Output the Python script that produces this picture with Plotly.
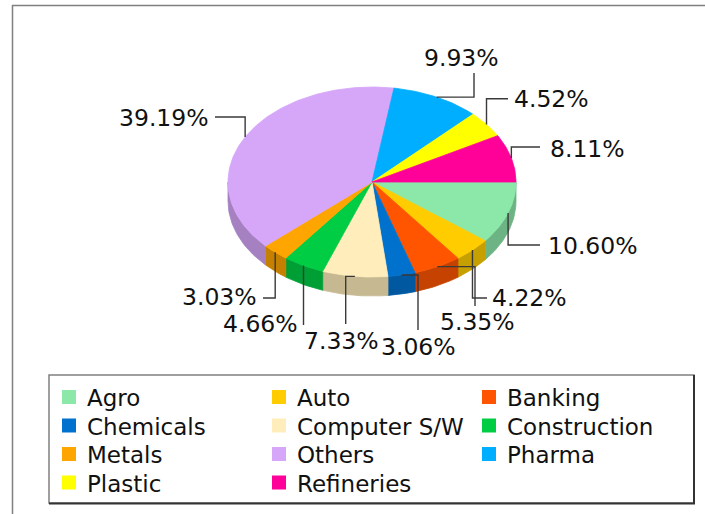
import math
import plotly.graph_objects as go

# ---------------- data ----------------
categories = ["Agro", "Auto", "Banking", "Chemicals", "Computer S/W", "Construction",
              "Metals", "Others", "Pharma", "Plastic", "Refineries"]
shares = [10.60, 4.22, 5.35, 3.06, 7.33, 4.66, 3.03, 39.19, 9.93, 4.52, 8.11]
colors = ["#8BE8A8", "#FFCC00", "#FF5500", "#0072CE", "#FFEEBB", "#00CC44",
          "#FFA500", "#D6A6F9", "#00AEFF", "#FFFF00", "#FF0099"]

# ---------------- layout constants (pixels) ----------------
W, H = 705, 514
CX, CY = 372, 182      # pie centre
RX, RY = 144, 95       # ellipse radii
DEPTH = 19             # pie thickness
FONT = "DejaVu Sans, Verdana, sans-serif"
FS_LABEL = 23.5
FS_LEGEND = 23

# leader routing per label: waypoints ('h', x) / ('v', y) and text placement
label_routes = {
    "Agro":         ([("v", 245), ("h", 540)], (546, 246, "left")),
    "Auto":         ([("v", 298), ("h", 487)], (490, 298, "left")),
    "Banking":      ([("h", 475), ("v", 306)], (477, 322, "center")),
    "Chemicals":    ([("h", 418), ("v", 330)], (418, 347, "center")),
    "Computer S/W": ([("h", 345.7), ("v", 324)], (341, 341, "center")),
    "Construction": ([("v", 325)], (300, 324, "right")),
    "Metals":       ([("v", 298), ("h", 263)], (259, 297, "right")),
    "Others":       ([("v", 117), ("h", 215)], (211, 118, "right")),
    "Pharma":       ([("h", 474), ("v", 73)], (461, 58, "center")),
    "Plastic":      ([("v", 98.7), ("h", 508)], (512, 99, "left")),
    "Refineries":   ([("v", 147), ("h", 540)], (548, 149, "left")),
}


def darker(hexcol, f=0.78):
    h = hexcol.lstrip("#")
    r, g, b = (int(h[i:i + 2], 16) for i in (0, 2, 4))
    return "#%02X%02X%02X" % (int(r * f), int(g * f), int(b * f))


def pt(t_deg, dy=0.0):
    t = math.radians(t_deg)
    return CX + RX * math.cos(t), CY + RY * math.sin(t) + dy


def arc(a0, a1, dy=0.0):
    n = max(2, int(abs(a1 - a0) / 1.0) + 1)
    return [pt(a0 + (a1 - a0) * i / (n - 1), dy) for i in range(n)]


total = sum(shares)
bounds = []
acc = 0.0
for v in shares:
    a0 = acc / total * 360.0
    acc += v
    a1 = acc / total * 360.0
    bounds.append((a0, a1))

fig = go.Figure()

# side walls (front half only: angles 0..180 are towards the viewer)
for name, col, (a0, a1) in zip(categories, colors, bounds):
    s0, s1 = max(a0, 0.0), min(a1, 180.0)
    if s1 <= s0:
        continue
    top = arc(s0, s1)
    bot = arc(s1, s0, DEPTH)
    pts = top + bot + [top[0]]
    sc = darker(col)
    fig.add_trace(go.Scatter(
        x=[p[0] for p in pts], y=[p[1] for p in pts], mode="lines",
        fill="toself", fillcolor=sc, line=dict(color=sc, width=0.8),
        hoverinfo="skip", showlegend=False))

# top faces
for name, col, v, (a0, a1) in zip(categories, colors, shares, bounds):
    pts = [(CX, CY)] + arc(a0, a1) + [(CX, CY)]
    fig.add_trace(go.Scatter(
        x=[p[0] for p in pts], y=[p[1] for p in pts], mode="lines",
        fill="toself", fillcolor=col, line=dict(color=col, width=0.8),
        name=name, text=f"{name}: {v:.2f}%", hoverinfo="text", showlegend=False))

# leader lines and percentage labels
annotations = []
for name, v, (a0, a1) in zip(categories, shares, bounds):
    route, (tx, ty, anchor) = label_routes[name]
    x, y = pt((a0 + a1) / 2.0)
    xs, ys = [x], [y]
    for kind, val in route:
        if kind == "h":
            x = val
        else:
            y = val
        xs.append(x)
        ys.append(y)
    fig.add_trace(go.Scatter(x=xs, y=ys, mode="lines",
                             line=dict(color="#3A3A3A", width=1.4),
                             hoverinfo="skip", showlegend=False))
    annotations.append(dict(x=tx, y=ty, xref="x", yref="y", text=f"{v:.2f}%",
                            showarrow=False, xanchor=anchor, yanchor="middle",
                            font=dict(family=FONT, size=FS_LABEL, color="#111111")))

# legend (3 columns)
shapes = []
LX0, LY0, COLW, ROWH = 62, 397, 210, 28.5
for i, (name, col) in enumerate(zip(categories, colors)):
    r, c = divmod(i, 3)
    sx = LX0 + c * COLW
    sy = LY0 + r * ROWH
    shapes.append(dict(type="rect", xref="x", yref="y", x0=sx, x1=sx + 14,
                       y0=sy - 7, y1=sy + 7, fillcolor=col, line=dict(width=0),
                       layer="above"))
    annotations.append(dict(x=sx + 23, y=sy + 1, xref="x", yref="y", text=name,
                            showarrow=False, xanchor="left", yanchor="middle",
                            font=dict(family=FONT, size=FS_LEGEND, color="#111111")))

# legend box
shapes.append(dict(type="rect", xref="x", yref="y", x0=49, x1=694, y0=375, y1=503,
                   line=dict(color="#808080", width=1.5), fillcolor="rgba(0,0,0,0)",
                   layer="below"))
shapes.append(dict(type="line", xref="x", yref="y", x0=694, x1=694, y0=375, y1=504,
                   line=dict(color="#333333", width=2)))
shapes.append(dict(type="line", xref="x", yref="y", x0=49, x1=695, y0=503.5, y1=503.5,
                   line=dict(color="#333333", width=2)))
# outer frame (top and left edges)
shapes.append(dict(type="line", xref="x", yref="y", x0=12, x1=705, y0=5.5, y1=5.5,
                   line=dict(color="#808080", width=1.5)))
shapes.append(dict(type="line", xref="x", yref="y", x0=12.5, x1=12.5, y0=5, y1=514,
                   line=dict(color="#808080", width=1.5)))

fig.update_layout(
    width=W, height=H, margin=dict(l=0, r=0, t=0, b=0),
    paper_bgcolor="white", plot_bgcolor="white",
    xaxis=dict(range=[0, W], visible=False, fixedrange=True),
    yaxis=dict(range=[H, 0], visible=False, fixedrange=True),
    showlegend=False, annotations=annotations, shapes=shapes,
)

fig.write_html("out.html", config={"displayModeBar": False},
               post_script="document.body.style.margin='0';document.body.style.overflow='hidden';")
